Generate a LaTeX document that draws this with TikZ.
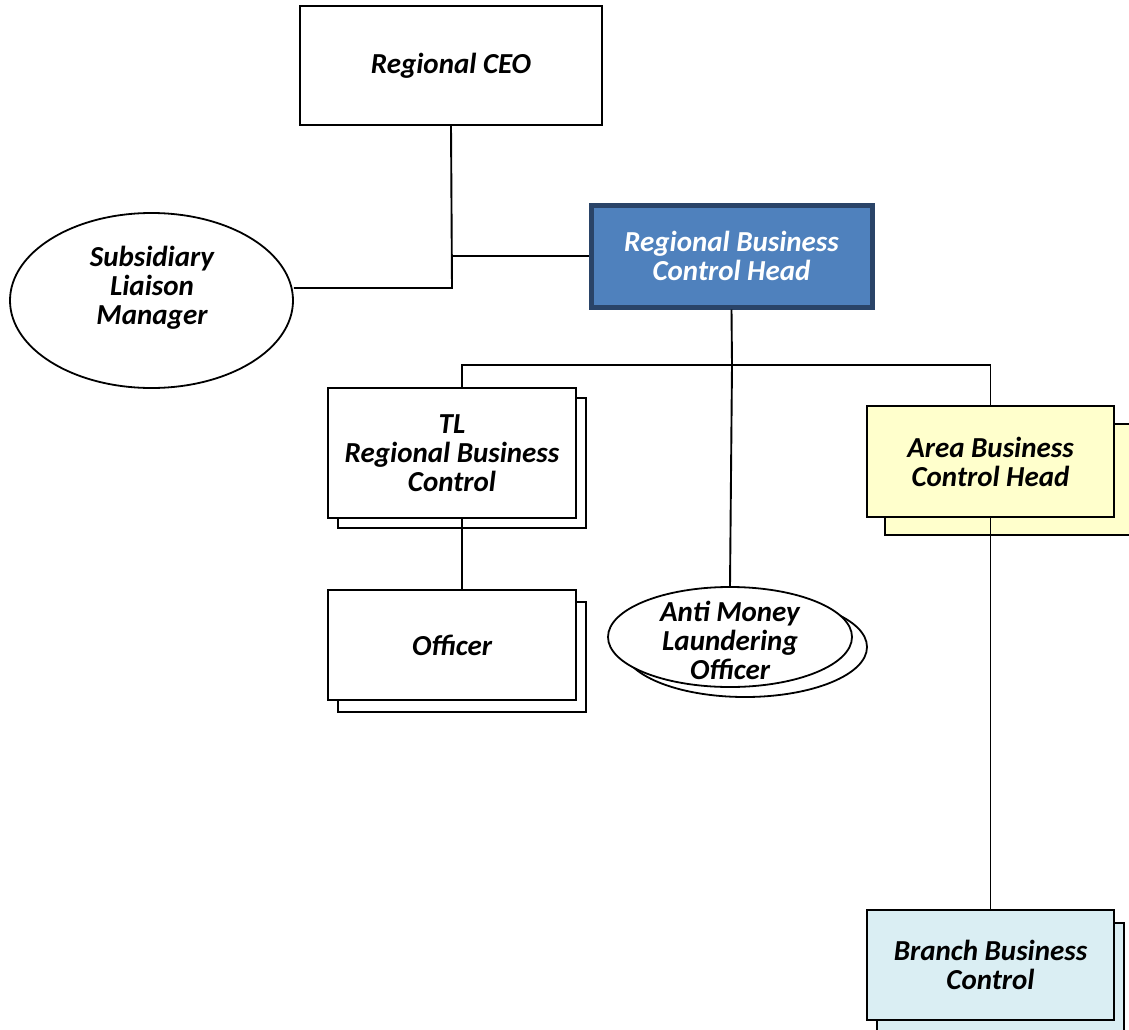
\documentclass[tikz,border=0pt]{standalone}
\usepackage{fontspec}
\setmainfont{Carlito}
\usetikzlibrary{shapes.geometric}
\definecolor{rbfill}{HTML}{4F81BD}
\definecolor{rbdraw}{HTML}{2A4468}
\definecolor{areafill}{HTML}{FFFFCC}
\definecolor{branchfill}{HTML}{DAEEF3}
\tikzset{
  every node/.style={font=\fontsize{29}{29}\selectfont\bfseries\itshape},
  orgbox/.style={draw, line width=1.8pt, fill=white, align=center, inner sep=0pt},
  orgell/.style={ellipse, draw, line width=1.8pt, fill=white, align=center, inner sep=0pt},
  conn/.style={line width=1.9pt}
}
\begin{document}
\begin{tikzpicture}[x=1pt,y=-1pt]
\useasboundingbox (0,0) rectangle (1129,1030);
\clip (0,0) rectangle (1129,1030);
% Regional CEO
\node[orgbox, minimum width=302, minimum height=119] (ceo) at (451,65.5) {Regional CEO};
% Subsidiary Liaison Manager
\node[orgell, minimum width=283, minimum height=175] (slm) at (151.5,300.5) {};
\node (slmt) at (152,288) [align=center] {Subsidiary\\Liaison\\Manager};
% Regional Business Control Head
\node[draw=rbdraw, line width=5pt, fill=rbfill, text=white, align=center, inner sep=0pt,
      minimum width=281, minimum height=102] (rbch) at (731.5,256) {Regional Business\\Control Head};
% TL Regional Business Control
\node[orgbox, minimum width=248, minimum height=130] (tlb) at (462,463) {};
\node[orgbox, minimum width=248, minimum height=130] (tl) at (452,453) {TL\\Regional Business\\Control};
% Officer
\node[orgbox, minimum width=248, minimum height=110] (offb) at (462,657) {};
\node[orgbox, minimum width=248, minimum height=110] (off) at (452,645) {Officer};
% AML
\node[orgell, minimum width=244, minimum height=100] (amlb) at (745,647) {};
\node[orgell, minimum width=244, minimum height=100] (aml) at (730,637) {};
\node (amlt) at (730,640) [align=center] {Anti Money\\Laundering\\Officer};
% Area Business Control Head
\node[orgbox, fill=areafill, minimum width=247, minimum height=111] (areab) at (1008.5,479.5) {};
\node[orgbox, fill=areafill, minimum width=247, minimum height=111] (area) at (990.5,461.5) {Area Business\\Control Head};
% Branch Business Control
\node[orgbox, fill=branchfill, minimum width=247, minimum height=110] (brb) at (1000.5,978) {};
\node[orgbox, fill=branchfill, minimum width=247, minimum height=110] (br) at (990.5,965) {Branch Business\\Control};
% junctions
\coordinate (j1) at (452,288);
\coordinate (j2) at (732,365);
% connectors
\draw[conn] (ceo.south) -- (j1) -- (slm.east |- j1);
\draw[conn] (ceo.south |- rbch.west) -- (rbch.west);
\draw[conn] (rbch.south) -- (j2);
\draw[conn] (j2) -| (tlb.north |- tl.north);
\draw[conn] (j2) -| (area.north);
\draw[conn] (j2) -- (aml.north);
\draw[conn] (tlb.north |- tl.south) -- (tlb.north |- off.north);
\draw[conn] (area.south) -- (br.north);
\end{tikzpicture}
\end{document}
